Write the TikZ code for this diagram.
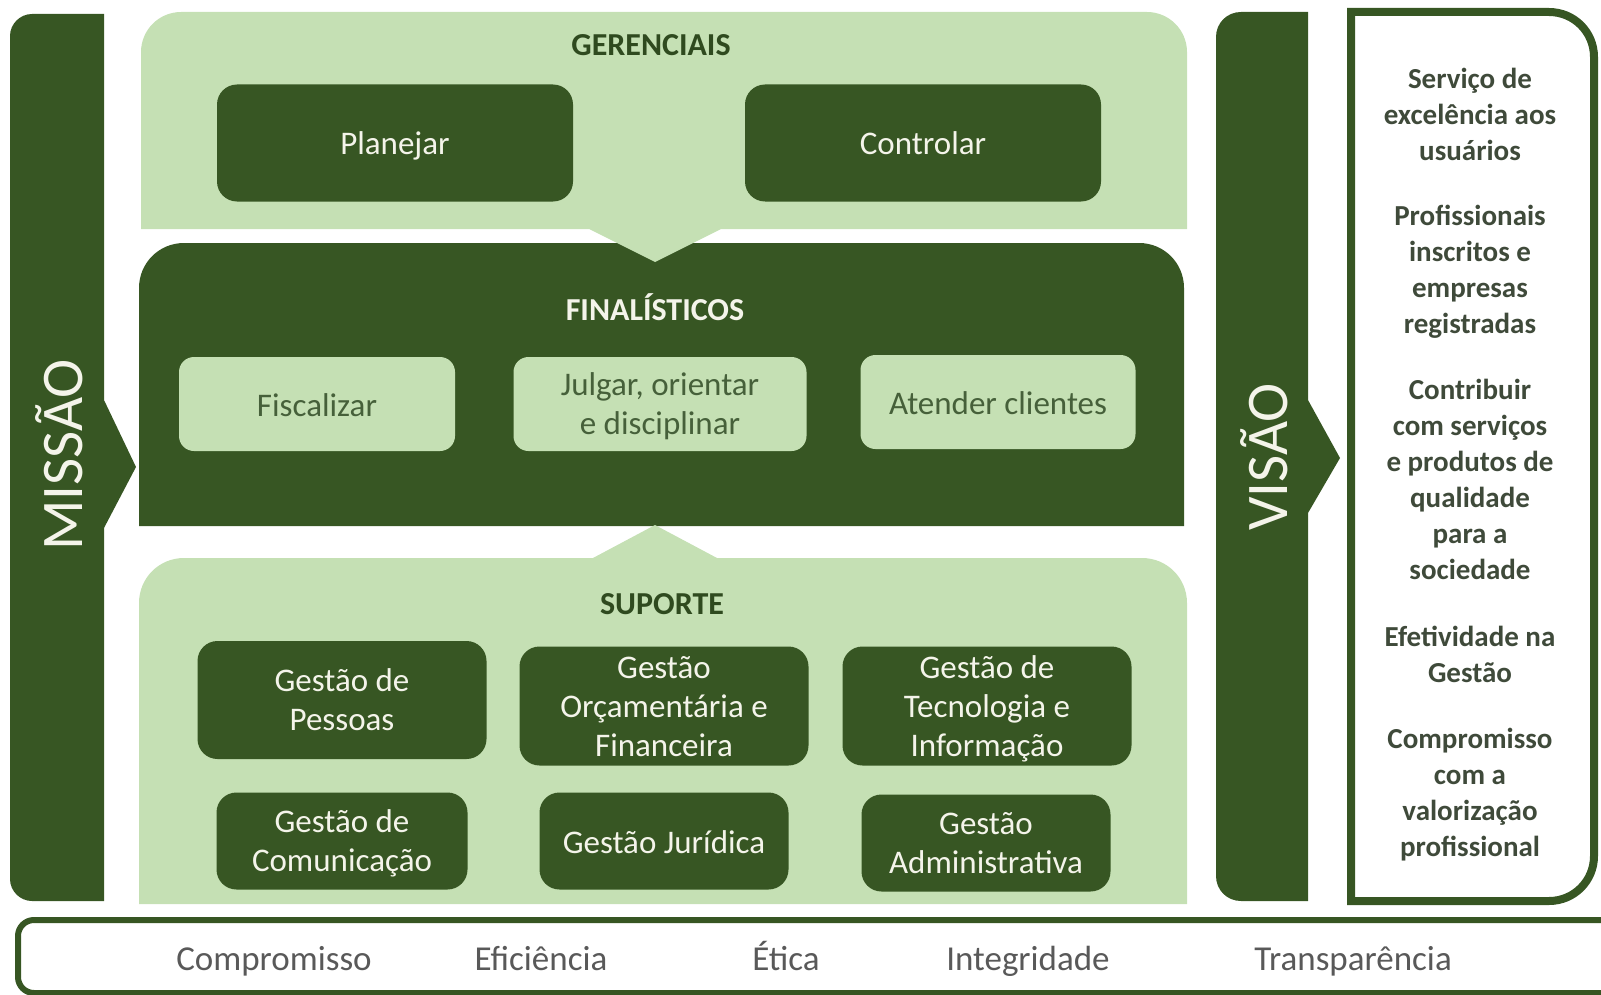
\documentclass[tikz,border=0pt]{standalone}
\usepackage{fontspec}
\setmainfont{Carlito}

\definecolor{dkgreen}{HTML}{375623}
\definecolor{ltgreen}{HTML}{C5E0B4}
\definecolor{txtgreen}{HTML}{46603A}
\definecolor{titlegreen}{HTML}{2F4A1F}
\definecolor{vistext}{HTML}{3F4A3A}
\definecolor{valgray}{HTML}{595959}
\definecolor{boxwhite}{HTML}{F4F4EA}

\tikzset{
  darkbox/.style={fill=dkgreen, rounded corners=10pt, text=boxwhite, align=center, inner sep=0pt,
    font=\fontsize{16.5}{19.5}\selectfont},
  lightbox/.style={fill=ltgreen, rounded corners=7.5pt, text=txtgreen, align=center, inner sep=0pt,
    font=\fontsize{16.5}{19.5}\selectfont},
  oneline/.style={text height=12pt, text depth=0pt},
  twolines/.style={text depth=-3pt},
  grouptitle/.style={font=\bfseries\fontsize{16}{19}\selectfont},
  visiontext/.style={text=vistext, align=center, font=\bfseries\fontsize{14.5}{18}\selectfont},
  valuetext/.style={text=valgray, text height=13pt, text depth=4pt, font=\fontsize{17.5}{21}\selectfont},
  bigword/.style={text=boxwhite, rotate=90, font=\fontsize{29.5}{32}\selectfont},
}

\begin{document}
\begin{tikzpicture}[x=0.5pt, y=-0.5pt]
  \useasboundingbox (0,0) rectangle (1601,995);
  \clip (0,0) rectangle (1601,995);

  % Missao bar with arrow
  \fill[dkgreen] (104,14) -- (104,400) -- (136,467) -- (104,528) -- (104,901) -- (32,901)
    .. controls (20,901) and (10,891) .. (10,879) -- (10,36) .. controls (10,24) and (20,14) .. (32,14) -- cycle;
  \node[bigword] (missao) at (59,455) {MISSÃO};

  % Visao bar with arrow
  \fill[dkgreen] (1308,12) -- (1308,400) -- (1340,458) -- (1308,513) -- (1308,901) -- (1241,901)
    .. controls (1227,901) and (1216,890) .. (1216,876) -- (1216,37) .. controls (1216,23) and (1227,12) .. (1241,12) -- cycle;
  \node[bigword] (visao) at (1264,457) {VISÃO};

  % Finalisticos block (dark)
  \fill[dkgreen] (139,526) -- (139,288) .. controls (139,263) and (159,243) .. (184,243) -- (1139,243)
    .. controls (1164,243) and (1184,263) .. (1184,288) -- (1184,526) -- cycle;

  % Gerenciais block (light), notch pointing down
  \fill[ltgreen] (141,229) -- (141,52) .. controls (141,30) and (159,12) .. (181,12) -- (1147,12)
    .. controls (1169,12) and (1187,30) .. (1187,52) -- (1187,229) -- (721,229) -- (655,262) -- (589,229) -- cycle;

  % Suporte block (light), notch pointing up
  \fill[ltgreen] (139,904) -- (139,603) .. controls (139,578) and (159,558) .. (184,558) -- (593,558) -- (655,525)
    -- (717,558) -- (1142,558) .. controls (1167,558) and (1187,578) .. (1187,603) -- (1187,904) -- cycle;

  % Gerenciais
  \node[grouptitle, text=titlegreen] (gerenciais) at (651,45) {GERENCIAIS};
  \node[darkbox, oneline, minimum width=178pt, minimum height=58.5pt] (planejar) at (395,143) {Planejar};
  \node[darkbox, oneline, minimum width=178pt, minimum height=58.5pt] (controlar) at (923,143) {Controlar};

  % Finalisticos
  \node[grouptitle, text=boxwhite] (finalisticos) at (655,307) {FINALÍSTICOS};
  \node[lightbox, oneline, minimum width=138pt, minimum height=47pt] (fiscalizar) at (317,404) {Fiscalizar};
  \node[lightbox, twolines, minimum width=146.5pt, minimum height=47pt] (julgar) at (660,404) {Julgar, orientar\\e disciplinar};
  \node[lightbox, oneline, minimum width=137.5pt, minimum height=47pt] (atender) at (998,402) {Atender clientes};

  % Suporte
  \node[grouptitle, text=titlegreen] (suporte) at (662,604) {SUPORTE};
  \node[darkbox, twolines, minimum width=144.5pt, minimum height=59pt] (gpessoas) at (342,700) {Gestão de\\Pessoas};
  \node[darkbox, twolines, minimum width=144.5pt, minimum height=59.5pt] (gorcamento) at (664,706) {Gestão\\Orçamentária e\\Financeira};
  \node[darkbox, twolines, minimum width=144.5pt, minimum height=59.5pt] (gtecnologia) at (987,706) {Gestão de\\Tecnologia e\\Informação};
  \node[darkbox, twolines, minimum width=125.5pt, minimum height=48.5pt] (gcomunicacao) at (342,841) {Gestão de\\Comunicação};
  \node[darkbox, oneline, minimum width=124.5pt, minimum height=48.5pt] (gjuridica) at (664,841) {Gestão Jurídica};
  \node[darkbox, twolines, minimum width=124.5pt, minimum height=48.5pt] (gadmin) at (986,843) {Gestão\\Administrativa};

  % Vision frame
  \draw[dkgreen, line width=4pt] (1351,12) -- (1549,12) .. controls (1574,12) and (1594,32) .. (1594,57) -- (1594,856)
    .. controls (1594,881) and (1574,901) .. (1549,901) -- (1351,901) -- cycle;
  \node[visiontext] (vis1) at (1470,114) {Serviço de\\excelência aos\\usuários};
  \node[visiontext] (vis2) at (1470,272) {Profissionais\\inscritos e\\empresas\\registradas};
  \node[visiontext] (vis3) at (1470,479) {Contribuir\\com serviços\\e produtos de\\qualidade\\para a\\sociedade};
  \node[visiontext] (vis4) at (1470,654) {Efetividade na\\Gestão};
  \node[visiontext] (vis5) at (1470,795) {Compromisso\\com a\\valorização\\profissional};

  % Values strip
  \draw[dkgreen, line width=3pt, rounded corners=8pt] (18,920) rectangle (1650,993);
  \node[valuetext] (compromisso) at (274,961) {Compromisso};
  \node[valuetext] (eficiencia) at (541,961) {Eficiência};
  \node[valuetext] (etica) at (786,961) {Ética};
  \node[valuetext] (integridade) at (1028,961) {Integridade};
  \node[valuetext] (transparencia) at (1353,961) {Transparência};
\end{tikzpicture}
\end{document}
